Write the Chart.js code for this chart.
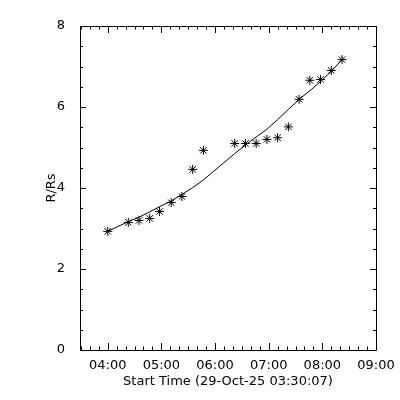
<html>
<head>
  <script src="https://cdn.jsdelivr.net/npm/chart.js@4.4.0/dist/chart.umd.min.js"></script>
  <style>body{margin:0;background:#fff}</style>
</head>
<body>
<canvas id="hc" width="400" height="400"></canvas>
<script>
  // observation times (UT) and measured heights
  var obsTimes = ['04:00','04:23','04:35','04:47','04:58','05:11','05:23','05:35','05:47','06:22',
                  '06:34','06:46','06:58','07:10','07:22','07:34','07:46','07:58','08:10','08:22'];
  var heights = [2.93,3.15,3.20,3.25,3.42,3.64,3.79,4.46,4.93,5.10,
                 5.10,5.10,5.20,5.24,5.51,6.19,6.66,6.68,6.90,7.17];
  // fitted curve at the same times
  var fitHeights = [2.93,3.17,3.28,3.41,3.54,3.68,3.84,4.01,4.20,4.85,
                    5.06,5.26,5.45,5.69,5.94,6.19,6.40,6.63,6.88,7.17];
  var xTickLabels = ['04:00','05:00','06:00','07:00','08:00','09:00'];
  var yTickLabels = ['0','2','4','6','8'];
  var xTitle = 'Start Time (29-Oct-25 03:30:07)';
  var yTitle = 'R/Rs';

  var mins = s => { var p = s.split(':'); return +p[0]*60 + +p[1]; };
  var fmt = m => { var h = Math.floor(m/60), mm = m%60; return (h<10?'0':'')+h+':'+(mm<10?'0':'')+mm; };
  var xMin = mins('03:29'), xMax = mins('09:00');
  var fnt = {family: 'DejaVu Sans', size: 13};

  // IDL style box with inward major/minor ticks on all sides
  var boxTicks = {
    id: 'boxTicks',
    afterDraw(c) {
      var a = c.chartArea, x = c.scales.x, y = c.scales.y, g = c.ctx;
      g.save();
      g.strokeStyle = '#000'; g.lineWidth = 1;
      g.beginPath();
      g.rect(Math.round(a.left)+0.5, Math.round(a.top)+0.5, Math.round(a.right-a.left), Math.round(a.bottom-a.top));
      for (var m = 210; m <= xMax; m += 10) {
        var px = Math.round(x.getPixelForValue(m)) + 0.5, l = (m % 60 == 0) ? 7 : 3.5;
        g.moveTo(px, a.bottom); g.lineTo(px, a.bottom - l);
        g.moveTo(px, a.top); g.lineTo(px, a.top + l);
      }
      for (var v = 0; v <= 8; v += 0.5) {
        var py = Math.round(y.getPixelForValue(v)) + 0.5, l = (v % 2 == 0) ? 6 : 3;
        g.moveTo(a.left, py); g.lineTo(a.left + l, py);
        g.moveTo(a.right, py); g.lineTo(a.right - l, py);
      }
      g.stroke();
      g.restore();
    }
  };

  new Chart(document.getElementById('hc'), {
    type: 'scatter',
    data: {
      datasets: [{
        data: obsTimes.map((t, i) => ({x: mins(t), y: heights[i]})),
        pointStyle: 'star', pointRadius: 4.5, borderColor: '#000', borderWidth: 1, showLine: false
      }, {
        data: obsTimes.map((t, i) => ({x: mins(t), y: fitHeights[i]})),
        pointRadius: 0, borderColor: '#000', borderWidth: 1, showLine: true, tension: 0
      }]
    },
    options: {
      responsive: false,
      animation: false,
      layout: {padding: {top: 26, right: 24, left: 0, bottom: 0}},
      plugins: {legend: {display: false}, tooltip: {enabled: false}},
      scales: {
        x: {
          type: 'linear', min: xMin, max: xMax,
          afterFit: s => { s.height = 50; },
          afterBuildTicks: s => { s.ticks = xTickLabels.map(t => ({value: mins(t)})); },
          grid: {display: false}, border: {display: false},
          ticks: {color: '#000', font: fnt, padding: 0, maxRotation: 0, callback: v => fmt(v)},
          title: {display: true, text: xTitle, color: '#000', font: fnt, padding: {top: 0, bottom: 11}}
        },
        y: {
          min: 0, max: 8,
          afterFit: s => { s.width = 80; },
          afterBuildTicks: s => { s.ticks = yTickLabels.map(t => ({value: +t})); },
          grid: {display: false}, border: {display: false},
          ticks: {color: '#000', font: fnt, padding: 7},
          title: {display: true, text: yTitle, color: '#000', font: fnt, padding: {top: 44, bottom: 0}}
        }
      }
    },
    plugins: [boxTicks]
  });
</script>
</body>
</html>
